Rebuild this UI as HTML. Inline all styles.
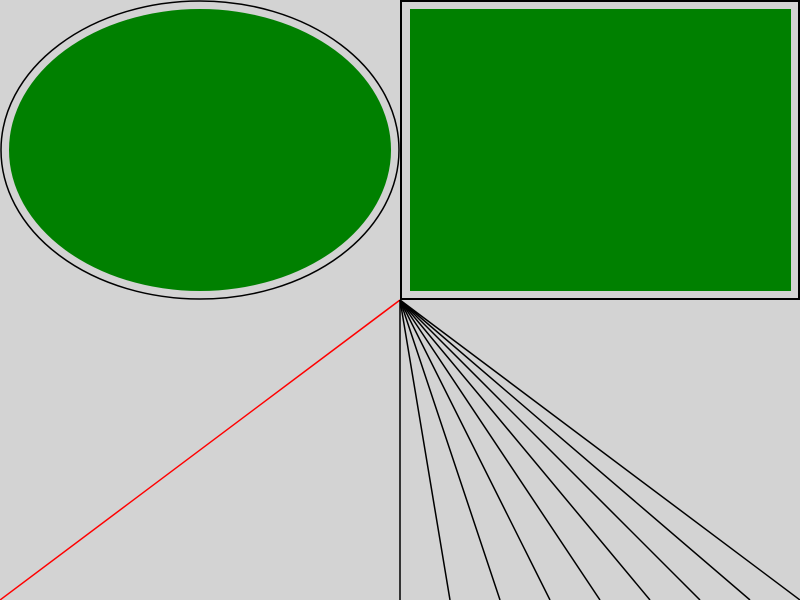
<!DOCTYPE html>
<html><head><style>body{margin:0;background:#d3d3d3}svg{display:block}</style></head>
<body>
<svg width="800" height="600" viewBox="0 0 800 600">
<rect x="0" y="0" width="800" height="600" fill="#d3d3d3"/>
<ellipse cx="200" cy="150" rx="199" ry="149" fill="none" stroke="#000" stroke-width="1.5"/>
<ellipse cx="200" cy="150" rx="191" ry="141" fill="#008000"/>
<rect x="401" y="1" width="398" height="298" fill="none" stroke="#000" stroke-width="2"/>
<rect x="410" y="9" width="381" height="282" fill="#008000"/>
<line x1="400" y1="300" x2="0" y2="600" stroke="#f00" stroke-width="1.5"/>
<g id="fan" stroke="#000" stroke-width="1.5"></g>
</svg>
<script>
const ends=[400,450,500,550,600,650,700,750,800];
const g=document.getElementById('fan');
ends.forEach(x=>{
 const l=document.createElementNS('http://www.w3.org/2000/svg','line');
 
 
 l.setAttribute('x1',400);l.setAttribute('y1',300);
 l.setAttribute('x2',x);l.setAttribute('y2',600);
 g.appendChild(l);
});
</script>
</body></html>
